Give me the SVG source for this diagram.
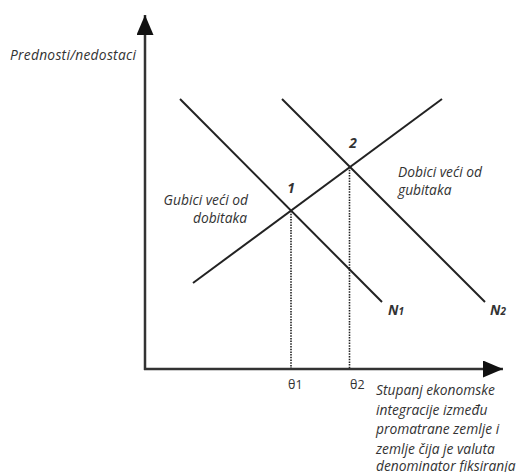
<svg xmlns="http://www.w3.org/2000/svg" width="520" height="472" viewBox="0 0 520 472">
<style>
.ax{stroke:#333;stroke-width:2.5;fill:none}
.ln{stroke:#222;stroke-width:2;fill:none}
.dt{stroke:#222;stroke-width:1.6;stroke-dasharray:1.5 1.2;fill:none}
.t{font-family:"Open Sans","Noto Sans",sans-serif;font-style:italic;font-size:13.8px;fill:#333}
.u{font-family:"Open Sans","Noto Sans",sans-serif;font-size:12.5px;fill:#333}
</style>
<defs>
<marker id="ah" viewBox="0 0 20 17" refX="20" refY="8.5" markerWidth="20" markerHeight="17" markerUnits="userSpaceOnUse" orient="auto">
<path d="M0,0 L20,8.5 L0,17 Z" fill="#111"/>
</marker>
</defs>
<g id="connectors">
<line class="ax" x1="145" y1="370" x2="145" y2="15" marker-end="url(#ah)"/>
<line class="ax" x1="144" y1="369" x2="503" y2="369" marker-end="url(#ah)"/>
<line class="ln" x1="180" y1="99" x2="382" y2="302"/>
<line class="ln" x1="282" y1="99" x2="485" y2="302"/>
<line class="ln" x1="193" y1="283" x2="442" y2="99"/>
<line class="dt" x1="291" y1="211" x2="291" y2="368"/>
<line class="dt" x1="349.5" y1="167" x2="349.5" y2="368"/>
</g>
<g id="axis-y-label"><text class="t" x="10" y="60" textLength="126">Prednosti/nedostaci</text></g>
<g id="point-1"><text class="t" x="291" y="193" text-anchor="middle" font-size="9" font-weight="bold">1</text></g>
<g id="point-2"><text class="t" x="353" y="148" text-anchor="middle" font-size="9" font-weight="bold">2</text></g>
<g id="label-left"><text class="t" text-anchor="end"><tspan x="248" y="205">Gubici veći od</tspan><tspan x="247" y="223">dobitaka</tspan></text></g>
<g id="label-right"><text class="t"><tspan x="398" y="177">Dobici veći od</tspan><tspan x="398" y="195">gubitaka</tspan></text></g>
<g id="N1"><text class="t" x="388" y="315" font-weight="bold">N<tspan font-size="10">1</tspan></text></g>
<g id="N2"><text class="t" x="490" y="315" font-weight="bold">N<tspan font-size="10">2</tspan></text></g>
<g id="theta1"><text class="u" x="288" y="389">θ1</text></g>
<g id="theta2"><text class="u" x="350" y="389">θ2</text></g>
<g id="axis-x-label"><text class="t"><tspan x="376" y="395">Stupanj ekonomske</tspan><tspan x="376" y="414.5">integracije između</tspan><tspan x="376" y="434">promatrane zemlje i</tspan><tspan x="376" y="453.5">zemlje čija je valuta</tspan><tspan x="376" y="471">denominator fiksiranja</tspan></text></g>
</svg>
